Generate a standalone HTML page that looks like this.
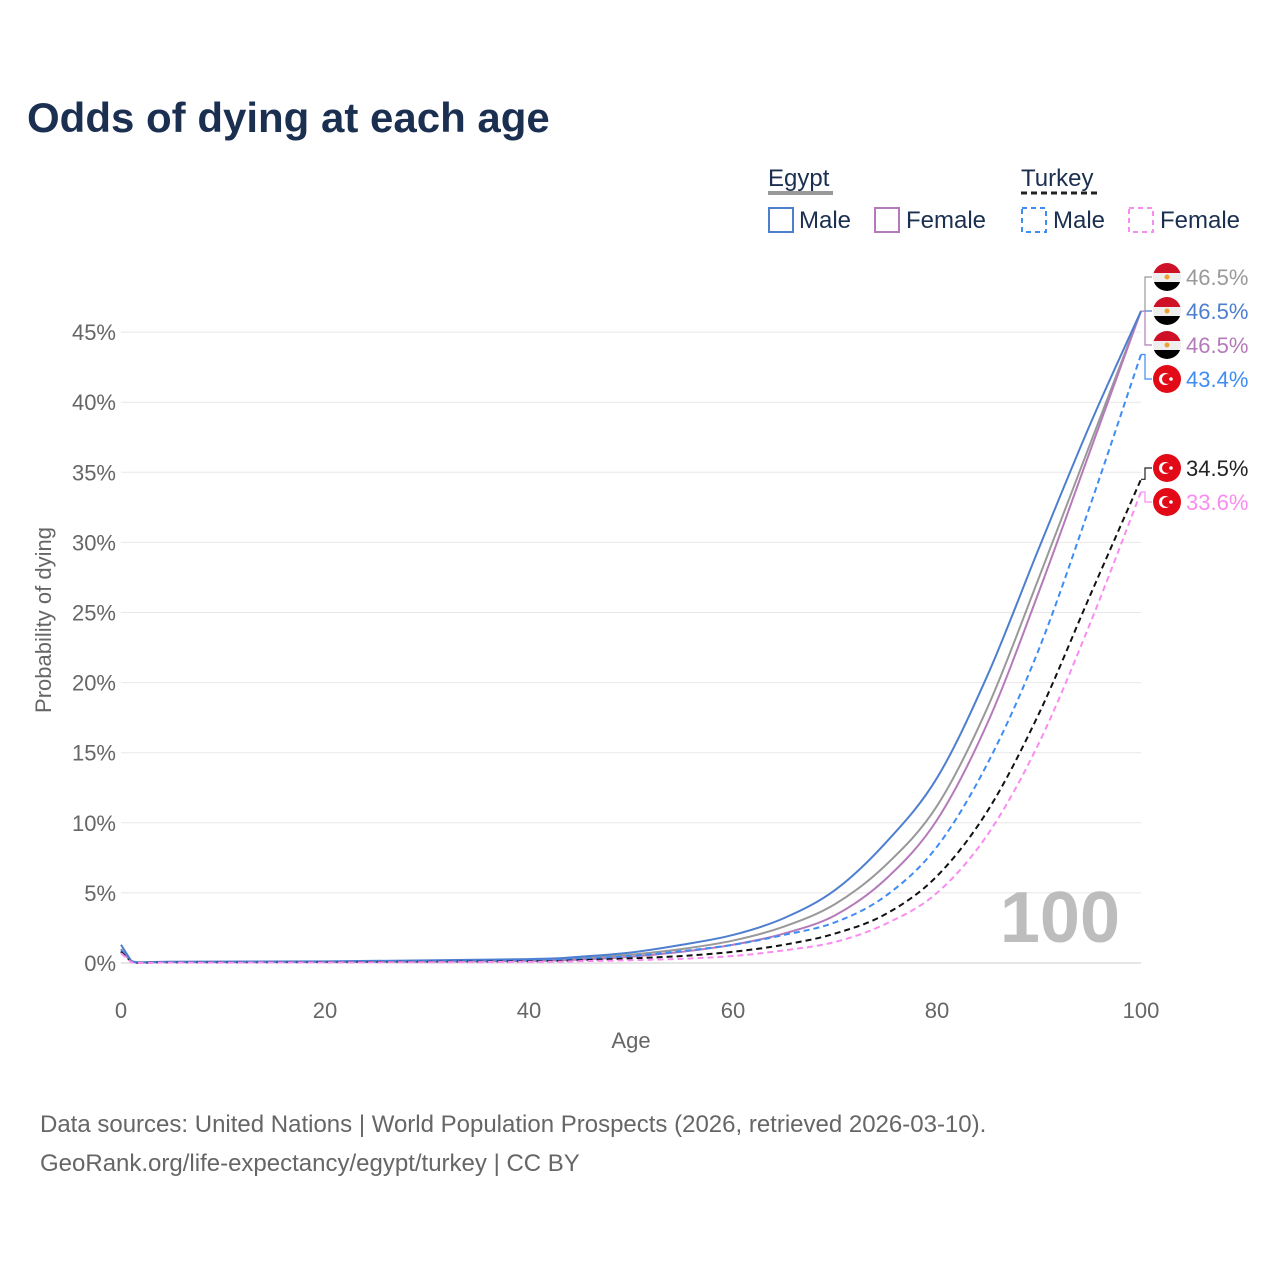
<!DOCTYPE html>
<html><head><meta charset="utf-8"><style>
body{margin:0;background:#fff;font-family:"Liberation Sans",sans-serif;}
</style></head><body>
<svg id="s" width="1280" height="1280" xmlns="http://www.w3.org/2000/svg" font-family="Liberation Sans, sans-serif">
<rect width="1280" height="1280" fill="#fff"/>
<text x="27" y="132" font-size="42" font-weight="bold" fill="#1b2f50">Odds of dying at each age</text>
<g id="grid"></g>
<text x="1120" y="942" font-size="72" font-weight="bold" fill="#bdbdbd" text-anchor="end">100</text>
<text transform="translate(51,620) rotate(-90)" font-size="22" fill="#666" text-anchor="middle">Probability of dying</text>
<text x="631" y="1048" font-size="22" fill="#666" text-anchor="middle">Age</text>
<g font-size="24" fill="#1b2f50">
<text x="768" y="186">Egypt</text>
<line x1="768" y1="193" x2="833" y2="193" stroke="#999" stroke-width="4"/>
<text x="1021" y="186">Turkey</text>
<line x1="1021" y1="193" x2="1098" y2="193" stroke="#222" stroke-width="3" stroke-dasharray="6,4"/>
<rect x="769" y="208" width="24" height="24" fill="none" stroke="#4e7fcf" stroke-width="2"/>
<text x="799" y="228">Male</text>
<rect x="875" y="208" width="24" height="24" fill="none" stroke="#b57ab9" stroke-width="2"/>
<text x="906" y="228">Female</text>
<rect x="1022" y="208" width="24" height="24" fill="none" stroke="#3f8cf5" stroke-width="2" stroke-dasharray="5,4"/>
<text x="1053" y="228">Male</text>
<rect x="1129" y="208" width="24" height="24" fill="none" stroke="#f98cf0" stroke-width="2" stroke-dasharray="5,4"/>
<text x="1160" y="228">Female</text>
</g>
<g id="lines"></g>
<g id="labels"></g>
<text x="40" y="1132" font-size="24" fill="#666">Data sources: United Nations | World Population Prospects (2026, retrieved 2026-03-10).</text>
<text x="40" y="1171" font-size="24" fill="#666">GeoRank.org/life-expectancy/egypt/turkey | CC BY</text>
</svg>
<script>
const NS="http://www.w3.org/2000/svg";
function el(t,a,p,txt){const e=document.createElementNS(NS,t);for(const k in a)e.setAttribute(k,a[k]);if(txt!==undefined)e.textContent=txt;p.appendChild(e);return e;}
const X=a=>121+a*10.2, Y=v=>963-v*14.02;
const g=document.getElementById('grid');
for(let i=0;i<=9;i++){const y=Y(i*5);el('line',{x1:121,x2:1141,y1:y,y2:y,stroke:i==0?'#ccc':'#e8e8e8','stroke-width':1},g);
el('text',{x:116,y:y+8,'font-size':22,fill:'#666','text-anchor':'end'},g,i*5+'%');}
for(let a=0;a<=100;a+=20)el('text',{x:X(a),y:1018,'font-size':22,fill:'#666','text-anchor':'middle'},g,a);
const ages=[0,1,5,20,40,45,50,55,60,65,70,75,80,85,90,95,100];
const S=[
{c:'#999',d:'',v:[1.0,0.12,0.08,0.1,0.22,0.35,0.6,1.0,1.6,2.6,4.2,7.0,11.2,18.3,27.5,37,46.5]},
{c:'#b57ab9',d:'',v:[0.9,0.1,0.06,0.07,0.15,0.25,0.45,0.8,1.3,2.1,3.4,6.0,10.2,17.2,26.5,36.5,46.5]},
{c:'#4e7fcf',d:'',v:[1.3,0.15,0.09,0.12,0.28,0.45,0.75,1.3,2.0,3.2,5.2,8.6,13.2,20.6,29.6,38.4,46.5]},
{c:'#3f8cf5',d:'6,4',v:[0.9,0.08,0.05,0.08,0.18,0.3,0.5,0.85,1.3,2.0,2.9,4.8,8.3,14.3,22.4,32.6,43.4]},
{c:'#111',d:'6,4',v:[0.8,0.07,0.04,0.06,0.12,0.2,0.33,0.5,0.8,1.3,2.1,3.5,6.2,10.9,17.8,26.2,34.5]},
{c:'#f98cf0',d:'6,4',v:[0.7,0.06,0.03,0.04,0.08,0.13,0.2,0.3,0.5,0.9,1.5,2.8,5.0,9.2,15.7,24.2,33.6]}];
const L=document.getElementById('lines');
S.forEach(s=>{const P=ages.map((a,i)=>[X(a),Y(s.v[i])]);let d='M'+P[0];
for(let i=0;i<P.length-1;i++){const p0=P[Math.max(0,i-1)],p1=P[i],p2=P[i+1],p3=P[Math.min(P.length-1,i+2)];
const k=i==0?0:1/6;const c1=[p1[0]+(p2[0]-p0[0])*k,p1[1]+(p2[1]-p0[1])*k],c2=[p2[0]-(p3[0]-p1[0])*k,p2[1]-(p3[1]-p1[1])*k];
d+='C'+c1+' '+c2+' '+p2;}
el('path',{d:d,fill:'none',stroke:s.c,'stroke-width':2,'stroke-dasharray':s.d},L);});
const LB=document.getElementById('labels');
const labs=[[277,'46.5%','#999','eg',Y(46.5)],[311,'46.5%','#4e7fcf','eg',Y(46.5)],[345,'46.5%','#b57ab9','eg',Y(46.5)],[379,'43.4%','#3f8cf5','tr',Y(43.4)],[468,'34.5%','#222','tr',Y(34.5)],[502,'33.6%','#f98cf0','tr',Y(33.6)]];
labs.forEach(([y,t,c,f,ly])=>{
el('polyline',{points:`1141,${ly} 1145,${ly} 1145,${y} 1152,${y}`,fill:'none',stroke:c,'stroke-width':1.2},LB);
const cx=1167,r=14;
if(f=='eg'){const id='c'+y;const cp=el('clipPath',{id:id},LB);el('circle',{cx:cx,cy:y,r:r},cp);
const gg=el('g',{'clip-path':`url(#${id})`},LB);
el('rect',{x:cx-r,y:y-r,width:2*r,height:10,fill:'#ce1126'},gg);
el('rect',{x:cx-r,y:y-r+10,width:2*r,height:9,fill:'#eee'},gg);
el('rect',{x:cx-r,y:y-r+19,width:2*r,height:10,fill:'#000'},gg);
el('circle',{cx:cx,cy:y,r:2.5,fill:'#f0a030'},gg);}
else{el('circle',{cx:cx,cy:y,r:r,fill:'#e30a17'},LB);el('circle',{cx:cx-2,cy:y,r:6,fill:'#fff'},LB);el('circle',{cx:cx,cy:y,r:5,fill:'#e30a17'},LB);el('circle',{cx:cx+4,cy:y,r:1.8,fill:'#fff'},LB);}
el('text',{x:1186,y:y+8,'font-size':22,fill:c},LB,t);});
</script>
</body></html>
